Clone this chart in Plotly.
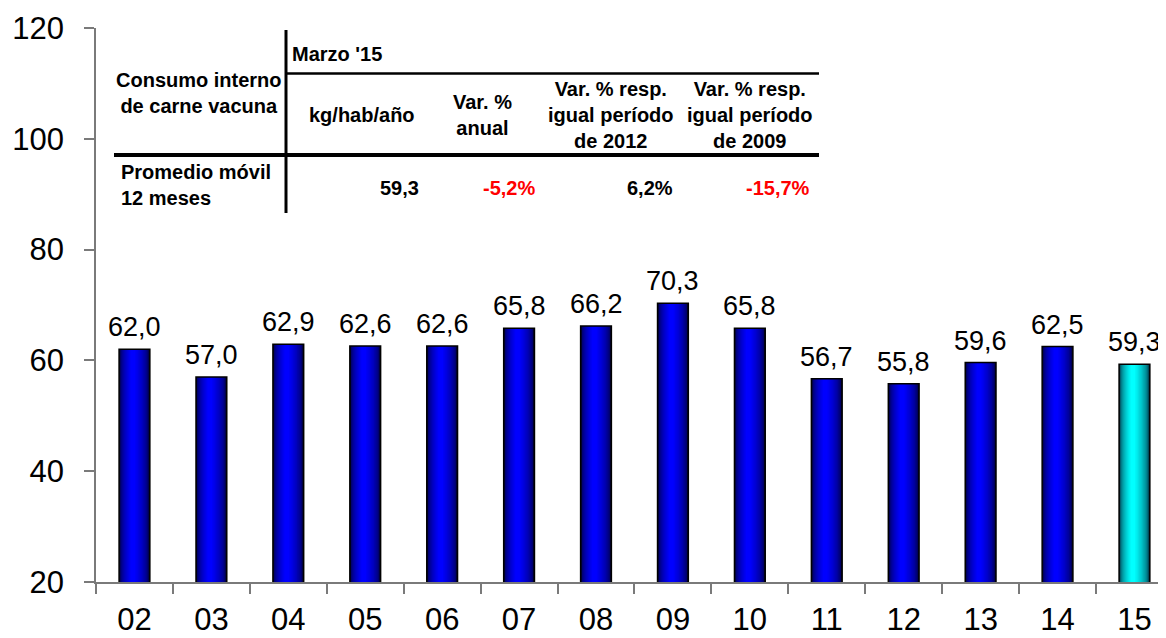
import plotly.graph_objects as go

# ---- data ----
years = ["02", "03", "04", "05", "06", "07", "08", "09", "10", "11", "12", "13", "14", "15"]
consumo = [62.0, 57.0, 62.9, 62.6, 62.6, 65.8, 66.2, 70.3, 65.8, 56.7, 55.8, 59.6, 62.5, 59.3]
y_ticks = [20, 40, 60, 80, 100, 120]

tabla_titulo = "Consumo interno<br>de carne vacuna"
tabla_periodo = "Marzo '15"
tabla_headers = ["kg/hab/año", "Var. %<br>anual", "Var. % resp.<br>igual período<br>de 2012",
                 "Var. % resp.<br>igual período<br>de 2009"]
tabla_fila = "Promedio móvil<br>12 meses"
tabla_valores = ["59,3", "-5,2%", "6,2%", "-15,7%"]
tabla_negativo = [False, True, False, True]

# ---- layout geometry (screen pixels; page body has an 8px margin) ----
OFF = 8
SW, SH = 1166, 638
W, H = SW - OFF, SH - OFF
ML, MR, MT, MB = 96 - OFF, 0, 28 - OFF, 56
PW, PH = W - ML - MR, H - MT - MB
FONT = "Liberation Sans, Arial, sans-serif"


def px(x):
    return (x - OFF - ML) / PW


def py(y):
    return (H - MB - (y - OFF)) / PH


fig = go.Figure()

# gradient bars via stacked overlay layers
n_layers = 12
bar_w = 0.40
is_last = [i == len(years) - 1 for i in range(len(years))]
for k in range(n_layers):
    t = k / (n_layers - 1)          # 0 edge -> 1 centre
    w = bar_w * (1 - 0.85 * t)
    s = t ** 0.5
    cols = []
    for last in is_last:
        if last:
            cols.append(f"rgb(0,{int(40 + 215 * s)},{int(60 + 195 * s)})")
        else:
            cols.append(f"rgb(0,0,{int(50 + 205 * s)})")
    fig.add_trace(go.Bar(x=years, y=consumo, width=w, offset=-w / 2 - 0.02 * t,
                         marker=dict(color=cols, line=dict(width=0)),
                         hoverinfo="skip", showlegend=False))

# outline
fig.add_trace(go.Bar(x=years, y=consumo, width=bar_w,
                     marker=dict(color="rgba(0,0,0,0)", line=dict(color="black", width=1.5)),
                     showlegend=False))

ann = []
# value labels (category index positions)
for i, v in enumerate(consumo):
    ann.append(dict(text=f"{v:.1f}".replace(".", ","), x=i, y=v, xref="x", yref="y",
                    xanchor="center", yanchor="bottom", yshift=5, showarrow=False,
                    font=dict(family=FONT, size=27, color="black")))

# ---- table ----
shapes = [
    dict(type="line", xref="paper", yref="paper", x0=px(286), x1=px(286), y0=py(30), y1=py(213),
         line=dict(color="black", width=3)),
    dict(type="line", xref="paper", yref="paper", x0=px(287), x1=px(819), y0=py(73.5), y1=py(73.5),
         line=dict(color="black", width=2.5)),
    dict(type="line", xref="paper", yref="paper", x0=px(114), x1=px(819), y0=py(155), y1=py(155),
         line=dict(color="black", width=4)),
]
tab = []
bf = dict(family=FONT, size=20, color="black")
tab.append(dict(text=f"<b>{tabla_periodo}</b>", x=px(290), y=py(54), xanchor="left", yanchor="middle",
                font=bf))
tab.append(dict(text=f"<b>{tabla_titulo}</b>", x=px(199), y=py(93), xanchor="center", yanchor="middle",
                font=bf))
head_x = [362, 482, 611, 750]
for hx, h in zip(head_x, tabla_headers):
    tab.append(dict(text=f"<b>{h}</b>", x=px(hx), y=py(115), xanchor="center", yanchor="middle",
                    font=bf))
tab.append(dict(text=f"<b>{tabla_fila}</b>", x=px(119), y=py(185), xanchor="left", yanchor="middle",
                align="left", font=bf))
val_x = [421, 537, 675, 812]
for vx, v, neg in zip(val_x, tabla_valores, tabla_negativo):
    tab.append(dict(text=f"<b>{v}</b>", x=px(vx), y=py(188), xanchor="right", yanchor="middle",
                    font=dict(family=FONT, size=20, color="#ff0000" if neg else "black")))
for a in tab:
    a.update(xref="paper", yref="paper", showarrow=False)
ann += tab

axis_col = "#7a7a7a"
fig.update_layout(
    width=W, height=H, margin=dict(l=ML, r=MR, t=MT, b=MB, autoexpand=False),
    paper_bgcolor="white", plot_bgcolor="white",
    barmode="overlay", separators=",.", showlegend=False,
    font=dict(family=FONT, color="black"),
    shapes=shapes, annotations=ann,
    xaxis=dict(type="category", range=[-0.5, 13.41], showgrid=False, showline=True,
               linecolor=axis_col, linewidth=1.5, ticks="outside", tickson="boundaries",
               ticklen=10, tickcolor=axis_col, tickwidth=1.5, ticklabelstandoff=9,
               tickfont=dict(size=31, color="black", family=FONT)),
    yaxis=dict(range=[20, 120], tickvals=y_ticks, showgrid=False, zeroline=False, showline=True,
               linecolor=axis_col, linewidth=1.5, ticks="outside", ticklen=10, tickcolor=axis_col,
               tickwidth=1.5, ticklabelstandoff=14,
               tickfont=dict(size=31, color="black", family=FONT)),
)

fig.write_html("out.html")
